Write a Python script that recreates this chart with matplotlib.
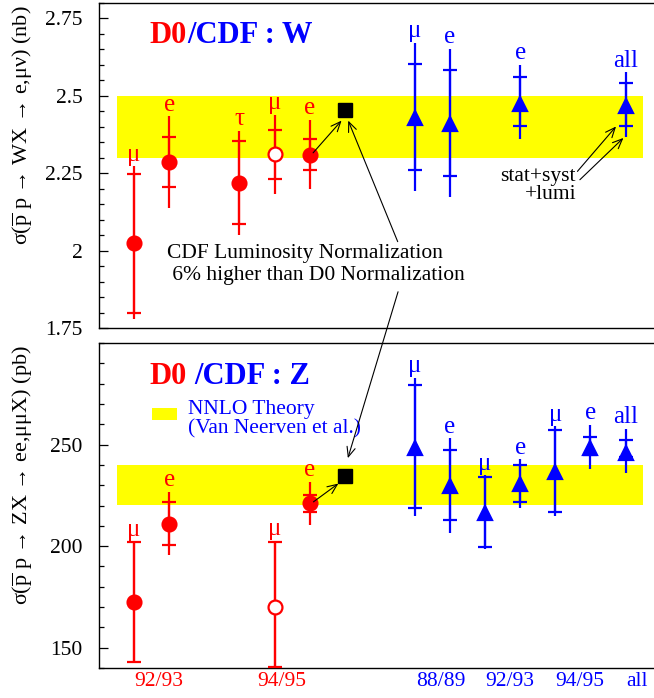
import matplotlib
matplotlib.use('Agg')
import matplotlib.pyplot as plt
from matplotlib.patches import ConnectionPatch, Rectangle
import matplotlib.transforms as mtrans
from matplotlib.ticker import MultipleLocator
import numpy as np

plt.rcParams['font.family'] = ['Liberation Serif', 'DejaVu Serif']
plt.rcParams['mathtext.fontset'] = 'custom'
plt.rcParams['mathtext.rm'] = 'Liberation Serif'
plt.rcParams['mathtext.it'] = 'Liberation Serif:italic'
plt.rcParams['mathtext.bf'] = 'Liberation Serif:bold'

RED = '#ff0000'
BLUE = '#0000ff'
YEL = '#ffff00'

# ---- W cross section (nb) ----
w_theory = (2.30, 2.50)
# D0 points
w_d0_x = [1, 2, 4, 5, 6]
w_d0_val = [2.025, 2.286, 2.220, 2.312, 2.310]
w_d0_stat_lo = [1.800, 2.207, 2.086, 2.232, 2.261]
w_d0_stat_hi = [2.249, 2.366, 2.355, 2.391, 2.361]
w_d0_tot_lo = [1.780, 2.137, 2.051, 2.183, 2.200]
w_d0_tot_hi = [2.272, 2.434, 2.388, 2.439, 2.423]
w_d0_open = [False, False, False, True, False]
w_d0_lab = ['μ', 'e', 'τ', 'μ', 'e']
# CDF points
w_cdf_x = [9, 10, 12, 15]
w_cdf_val = [2.430, 2.410, 2.475, 2.468]
w_cdf_stat_lo = [2.261, 2.242, 2.401, 2.401]
w_cdf_stat_hi = [2.603, 2.583, 2.561, 2.542]
w_cdf_tot_lo = [2.191, 2.172, 2.361, 2.366]
w_cdf_tot_hi = [2.671, 2.652, 2.601, 2.576]
w_cdf_lab = ['μ', 'e', 'e', 'all']
# D0 rescaled to CDF luminosity
w_norm_x = 7
w_norm_val = 2.455

# ---- Z cross section (pb) ----
z_theory = (220, 240)
z_d0_x = [1, 2, 5, 6]
z_d0_val = [172.3, 211.0, 169.9, 221.0]
z_d0_stat_lo = [142.8, 200.6, 140.3, 216.7]
z_d0_stat_hi = [201.8, 221.6, 202.1, 225.4]
z_d0_tot_lo = [142.5, 195.6, 139.0, 210.3]
z_d0_tot_hi = [202.3, 226.7, 202.6, 231.6]
z_d0_open = [False, False, True, False]
z_d0_lab = ['μ', 'e', 'μ', 'e']
z_cdf_x = [9, 10, 11, 12, 13, 14, 15]
z_cdf_val = [248.5, 229.6, 216.4, 230.6, 236.5, 248.5, 245.9]
z_cdf_stat_lo = [219.0, 212.8, 199.7, 221.8, 216.7, 244.9, 243.9]
z_cdf_stat_hi = [279.2, 247.2, 234.1, 239.8, 257.0, 253.7, 252.1]
z_cdf_tot_lo = [214.7, 206.7, 198.4, 219.0, 214.7, 237.9, 236.0]
z_cdf_tot_hi = [282.9, 253.0, 234.9, 242.8, 259.0, 259.8, 257.9]
z_cdf_lab = ['μ', 'e', 'μ', 'e', 'μ', 'e', 'all']
z_norm_x = 7
z_norm_val = 234.6

# run labels under the bottom panel
run_x = [1.7, 5.2, 9.73, 11.71, 13.7, 15.33]
run_lab = ['92/93', '94/95', '88/89', '92/93', '94/95', 'all']
run_col = [RED, RED, BLUE, BLUE, BLUE, BLUE]

FS = 15.5


def draw_points(ax, xs, val, slo, shi, tlo, thi, labs, color, marker, opens=None):
    xs = np.array(xs, float)
    val = np.array(val)
    # full error (stat+syst+lumi): plain line
    ax.errorbar(xs, val, yerr=[val - np.array(tlo), np.array(thi) - val],
                fmt='none', ecolor=color, elinewidth=1.6, capsize=0, zorder=3)
    # stat+syst: crossbars
    ax.errorbar(xs, val, yerr=[val - np.array(slo), np.array(shi) - val],
                fmt='none', ecolor=color, elinewidth=1.6, capsize=5,
                capthick=1.6, zorder=3)
    for i, x in enumerate(xs):
        is_open = opens[i] if opens is not None else False
        ax.plot(x, val[i], marker=marker, ms=10.5 if marker == '^' else 10,
                mfc='white' if is_open else color, mec=color, mew=1.6,
                zorder=4, clip_on=False)
        ax.annotate(labs[i], xy=(x, thi[i]), xytext=(0, 4), textcoords='offset points',
                    ha='center', va='baseline', color=color, fontsize=18)


fig = plt.figure(figsize=(6.54, 6.98), dpi=100)
ax1 = fig.add_axes([99 / 654, 1 - 328 / 698, 555 / 654, 325 / 698])
ax2 = fig.add_axes([99 / 654, 1 - 668 / 698, 555 / 654, 325 / 698])

for ax in (ax1, ax2):
    ax.set_xlim(0, 555 / 35.1)
    ax.spines['right'].set_visible(False)
    for s in ('left', 'top', 'bottom'):
        ax.spines[s].set_linewidth(1.0)
    ax.tick_params(axis='y', which='both', direction='in', left=True, right=False,
                   labelsize=FS, pad=12)
    ax.tick_params(axis='y', which='major', length=6.5, width=0.9)
    ax.tick_params(axis='y', which='minor', length=3.6, width=0.9)
    ax.tick_params(axis='x', which='both', bottom=False, labelbottom=False)

# ---------------- top panel: W ----------------
ax1.set_ylim(1.75, 2.80)
ax1.yaxis.set_minor_locator(MultipleLocator(0.05))
ax1.set_yticks([1.75, 2.0, 2.25, 2.5, 2.75])
ax1.set_yticklabels(['1.75', '2', '2.25', '2.5', '2.75'])
ax1.fill_between([0.5, 15.5], w_theory[0], w_theory[1], color=YEL, lw=0, zorder=1)

draw_points(ax1, w_d0_x, w_d0_val, w_d0_stat_lo, w_d0_stat_hi, w_d0_tot_lo, w_d0_tot_hi,
            w_d0_lab, RED, 'o', w_d0_open)
draw_points(ax1, w_cdf_x, w_cdf_val, w_cdf_stat_lo, w_cdf_stat_hi, w_cdf_tot_lo, w_cdf_tot_hi,
            w_cdf_lab, BLUE, '^')
ax1.plot(w_norm_x, w_norm_val, marker='s', ms=10.5, color='k', zorder=4)

ax1.set_ylabel(r'σ($\overline{\mathrm{p}}$ p → WX → e,μν) (nb)', fontsize=16)
ax1.yaxis.set_label_coords(-0.115, 0.625)

t1 = ax1.text(1.45, 2.671, 'D0', color=RED, fontsize=22, fontweight='bold', va='baseline')
ax1.annotate('/CDF : W', xy=(1, 0), xycoords=t1, ha='left', va='bottom',
             color=BLUE, fontsize=22, fontweight='bold')

ax1.text(1.94, 1.9756, 'CDF Luminosity Normalization', fontsize=FS, va='baseline')
ax1.text(1.94, 1.904, ' 6% higher than D0 Normalization', fontsize=FS, va='baseline')
ax1.text(11.42, 2.226, 'stat+syst', fontsize=FS, va='baseline')
ax1.text(12.14, 2.168, '+lumi', fontsize=FS, va='baseline')

arr = dict(arrowstyle='->,head_length=0.7,head_width=0.3', lw=0.8, color='k',
           shrinkA=0, shrinkB=0, mutation_scale=10)
ax1.annotate('', xy=(6.91, 2.420), xytext=(6.10, 2.316), arrowprops=arr, zorder=5)
ax1.annotate('', xy=(7.10, 2.420), xytext=(8.51, 2.029), arrowprops=arr, zorder=5)
ax1.annotate('', xy=(14.73, 2.401), xytext=(13.63, 2.256), arrowprops=arr, zorder=5)
ax1.annotate('', xy=(14.94, 2.364), xytext=(13.70, 2.229), arrowprops=arr, zorder=5)

# ---------------- bottom panel: Z ----------------
ax2.set_ylim(140, 300)
ax2.set_yticks([150, 200, 250])
ax2.yaxis.set_minor_locator(MultipleLocator(10))
ax2.fill_between([0.5, 15.5], z_theory[0], z_theory[1], color=YEL, lw=0, zorder=1)

draw_points(ax2, z_d0_x, z_d0_val, z_d0_stat_lo, z_d0_stat_hi, z_d0_tot_lo, z_d0_tot_hi,
            z_d0_lab, RED, 'o', z_d0_open)
draw_points(ax2, z_cdf_x, z_cdf_val, z_cdf_stat_lo, z_cdf_stat_hi, z_cdf_tot_lo, z_cdf_tot_hi,
            z_cdf_lab, BLUE, '^')
ax2.plot(z_norm_x, z_norm_val, marker='s', ms=10.5, color='k', zorder=4)

ax2.set_ylabel(r'σ($\overline{\mathrm{p}}$ p → ZX → ee,μμX) (pb)', fontsize=16)
ax2.yaxis.set_label_coords(-0.115, 0.594)

t2 = ax2.text(1.45, 280.0, 'D0', color=RED, fontsize=22, fontweight='bold', va='baseline')
ax2.annotate('/CDF : Z', xy=(1, 0), xycoords=t2, xytext=(5, 0), textcoords='offset points',
             ha='left', va='bottom', color=BLUE, fontsize=22, fontweight='bold')

ax2.add_patch(Rectangle((1.50, 261.9), 0.71, 5.9, color=YEL, lw=0, zorder=2))
ax2.text(2.54, 265.2, 'NNLO Theory', color=BLUE, fontsize=FS, va='baseline')
ax2.text(2.54, 255.7, '(Van Neerven et al.)', color=BLUE, fontsize=FS, va='baseline')

ax2.annotate('', xy=(6.82, 230.8), xytext=(6.11, 221.8), arrowprops=arr, zorder=5)

tr = mtrans.blended_transform_factory(ax2.transData, ax2.transAxes)
for x, lab, c in zip(run_x, run_lab, run_col):
    ax2.text(x, -0.042, lab, transform=tr, ha='center', va='center', color=c, fontsize=FS)

# arrow from the normalization note down to the Z square
con = ConnectionPatch(xyA=(8.52, 1.867), coordsA=ax1.transData,
                      xyB=(7.09, 243.3), coordsB=ax2.transData,
                      arrowstyle='->,head_length=0.7,head_width=0.3', lw=0.8, color='k',
                      mutation_scale=10, shrinkA=0, shrinkB=0, zorder=6)
fig.add_artist(con)

fig.savefig('out.png', dpi=100)
